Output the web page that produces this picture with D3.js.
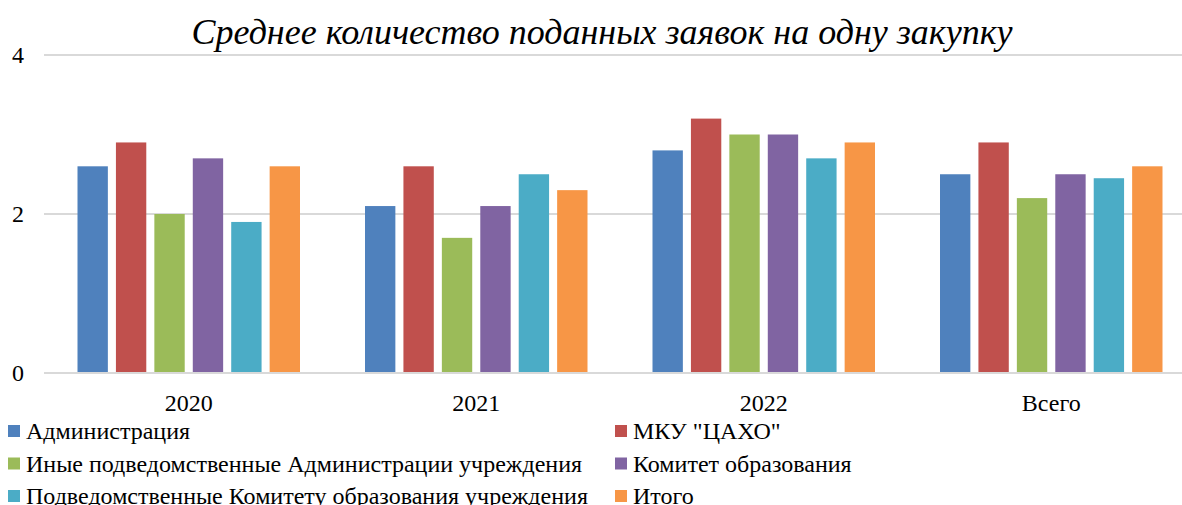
<!DOCTYPE html>
<html>
<head>
<meta charset="utf-8">
<script src="https://cdn.jsdelivr.net/npm/d3@7"></script>
<style>
  body { margin: 0; background: #fff; }
  svg { display: block; font-family: "Liberation Serif", "Times New Roman", serif; }
</style>
</head>
<body>
<div id="chart"></div>
<script>
// categories and series
var categories = ["2020", "2021", "2022", "Всего"];
var seriesNames = [
    "Администрация",
    "МКУ \"ЦАХО\"",
    "Иные подведомственные Администрации учреждения",
    "Комитет образования",
    "Подведомственные Комитету образования учреждения",
    "Итого"
];
var administration = [2.6, 2.1, 2.8, 2.5];
var mkuTsakho = [2.9, 2.6, 3.2, 2.9];
var otherAdmin = [2.0, 1.7, 3.0, 2.2];
var committee = [2.7, 2.1, 3.0, 2.5];
var committeeSub = [1.9, 2.5, 2.7, 2.45];
var total = [2.6, 2.3, 2.9, 2.6];
var yTicks = [0, 2, 4];
var colors = ["#4F81BD", "#C0504D", "#9BBB59", "#8064A2", "#4BACC6", "#F79646"];

var seriesValues = [administration, mkuTsakho, otherAdmin, committee, committeeSub, total];

var width = 1182, height = 505;
var svg = d3.select("#chart").append("svg")
    .attr("width", width)
    .attr("height", height);

// title
svg.append("text")
    .attr("x", 602)
    .attr("y", 44)
    .attr("text-anchor", "middle")
    .style("font-style", "italic")
    .style("font-size", "36px")
    .text("Среднее количество поданных заявок на одну закупку");

var x0 = d3.scaleBand().domain(categories).range([45, 1195]).paddingInner(0).paddingOuter(0);
var x1 = d3.scaleBand().domain(d3.range(seriesNames.length))
    .range([32.5, 287.5 - 32.5]).paddingInner(0.21).paddingOuter(0);
var y = d3.scaleLinear().domain([0, 4]).range([373, 55]);

// gridlines
svg.append("g").selectAll("line")
    .data(yTicks)
    .enter().append("line")
    .attr("x1", 44)
    .attr("x2", width)
    .attr("y1", function (d) { return y(d); })
    .attr("y2", function (d) { return y(d); })
    .style("stroke", "#d9d9d9")
    .style("stroke-width", 2);

// y labels
svg.append("g").selectAll("text")
    .data(yTicks)
    .enter().append("text")
    .attr("x", 18)
    .attr("y", function (d) { return y(d) + 8; })
    .attr("text-anchor", "middle")
    .style("font-size", "24px")
    .text(function (d) { return d; });

// bars
var groups = svg.append("g").selectAll("g")
    .data(categories)
    .enter().append("g")
    .attr("transform", function (d) { return "translate(" + x0(d) + ",0)"; });

groups.selectAll("rect")
    .data(function (d, ci) {
        return seriesValues.map(function (vals, si) { return { si: si, v: vals[ci] }; });
    })
    .enter().append("rect")
    .attr("x", function (d) { return x1(d.si); })
    .attr("width", x1.bandwidth())
    .attr("y", function (d) { return y(d.v); })
    .attr("height", function (d) { return y(0) - y(d.v); })
    .style("fill", function (d) { return colors[d.si]; });

// baseline on top
svg.append("line")
    .attr("x1", 44).attr("x2", width)
    .attr("y1", y(0)).attr("y2", y(0))
    .style("stroke", "#d9d9d9").style("stroke-width", 2);

// category labels
svg.append("g").selectAll("text")
    .data(categories)
    .enter().append("text")
    .attr("x", function (d) { return x0(d) + x0.bandwidth() / 2; })
    .attr("y", 411)
    .attr("text-anchor", "middle")
    .style("font-size", "24px")
    .text(function (d) { return d; });

// legend, two columns
var legend = svg.append("g").selectAll("g")
    .data(seriesNames)
    .enter().append("g")
    .attr("transform", function (d, i) {
        var col = i % 2, row = Math.floor(i / 2);
        return "translate(" + (col === 0 ? 8 : 615) + "," + (431 + row * 32.5) + ")";
    });

legend.append("rect")
    .attr("x", 0).attr("y", -6)
    .attr("width", 12).attr("height", 12)
    .style("fill", function (d, i) { return colors[i]; });

legend.append("text")
    .attr("x", 18)
    .attr("y", 8)
    .style("font-size", "24px")
    .text(function (d) { return d; });
</script>
</body>
</html>
